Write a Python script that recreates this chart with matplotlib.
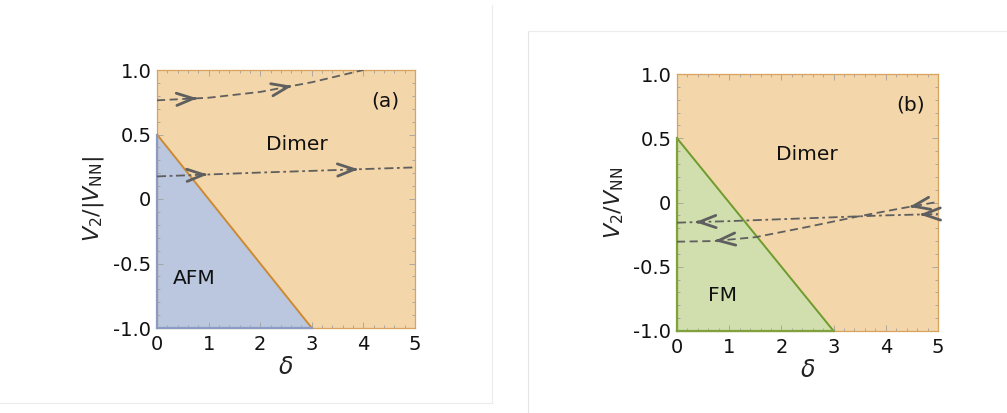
import numpy as np
import matplotlib
matplotlib.use("Agg")
import matplotlib.pyplot as plt
from matplotlib.patches import Polygon
from matplotlib.lines import Line2D
from matplotlib.ticker import MultipleLocator

plt.rcParams['font.family'] = ['DejaVu Sans']
plt.rcParams['mathtext.fontset'] = 'dejavusans'

# phase boundary (same line in both panels)
boundary_delta = [0.0, 3.0]
boundary_v = [0.5, -1.0]

# panel (a): RG flow lines
flow_a_dashed_delta = [0.0, 1.0, 2.0, 3.0, 4.0]
flow_a_dashed_v = [0.765, 0.785, 0.83, 0.905, 1.0]
flow_a_dashdot_delta = [0.0, 1.0, 2.0, 3.0, 4.0, 5.0]
flow_a_dashdot_v = [0.175, 0.19, 0.205, 0.218, 0.232, 0.245]
arrows_a_dashed = [0.78, 2.62]
arrows_a_dashdot = [0.98, 3.9]

# panel (b): RG flow lines
flow_b_dashed_delta = [0.0, 0.7, 1.5, 2.5, 3.45, 4.3, 5.0]
flow_b_dashed_v = [-0.305, -0.30, -0.27, -0.19, -0.11, -0.045, 0.005]
flow_b_dashdot_delta = [0.0, 1.0, 2.0, 3.0, 4.0, 5.0]
flow_b_dashdot_v = [-0.157, -0.145, -0.13, -0.115, -0.10, -0.09]
arrows_b_dashed = [0.72, 4.45]
arrows_b_dashdot = [0.35, 4.65]

x_ticks = [0, 1, 2, 3, 4, 5]
y_ticks = [-1.0, -0.5, 0.0, 0.5, 1.0]
y_ticklabels = ['-1.0', '-0.5', '0', '0.5', '1.0']

ORANGE_FILL = '#F3D6A9'
ORANGE_EDGE = '#D9A25E'
ORANGE_LINE = '#CC8A33'
BLUE_FILL = '#BAC7DE'
BLUE_EDGE = '#8A9CC4'
GREEN_FILL = '#D1DFAE'
GREEN_EDGE = '#7FA23E'
GREEN_LINE = '#6E9B2C'
FLOW = '#5F5F5F'

fig = plt.figure(figsize=(10.07, 4.13), dpi=100)
fig.patch.set_facecolor('white')

# faint frames around the two sub-figures
fig.add_artist(Line2D([491.5 / 1007, 491.5 / 1007], [1 - 5 / 413, 1 - 403 / 413],
                      transform=fig.transFigure, color='#ececec', lw=0.8))
fig.add_artist(Line2D([0, 491.5 / 1007], [1 - 403 / 413, 1 - 403 / 413],
                      transform=fig.transFigure, color='#ececec', lw=0.8))
fig.add_artist(Line2D([527.5 / 1007, 527.5 / 1007], [1 - 31 / 413, 0],
                      transform=fig.transFigure, color='#e4e4e4', lw=0.8))
fig.add_artist(Line2D([527.5 / 1007, 1], [1 - 31 / 413, 1 - 31 / 413],
                      transform=fig.transFigure, color='#ececec', lw=0.8))

ax_a = fig.add_axes([157 / 1007, 1 - 328 / 413, 258 / 1007, 258 / 413])
ax_b = fig.add_axes([677 / 1007, 1 - 331 / 413, 261 / 1007, 257 / 413])


def draw_arrows(ax, xs, ys, positions, direction):
    for p in positions:
        tip = (p, np.interp(p, xs, ys))
        back = p - 0.06 * direction
        tail = (back, np.interp(back, xs, ys))
        ax.annotate('', xy=tip, xytext=tail,
                    arrowprops=dict(arrowstyle='->, head_length=0.6, head_width=0.22',
                                    mutation_scale=20, lw=2.0, color=FLOW,
                                    shrinkA=0, shrinkB=0), zorder=6)


def setup(ax, ylabel, low_fill, low_edge, line_color, low_name, low_pos,
          dimer_pos, tag, tag_pos, ylabelpad):
    ax.set_xlim(0, 5)
    ax.set_ylim(-1, 1)
    for s in ax.spines.values():
        s.set_color(ORANGE_EDGE)
        s.set_linewidth(0.9)
    x0, x1 = boundary_delta
    y0, y1 = boundary_v
    dimer = Polygon([(x0, y0), (0, 1), (5, 1), (5, -1), (x1, y1)], closed=True,
                    facecolor=ORANGE_FILL, edgecolor='none', zorder=1)
    low = Polygon([(0, -1), (x0, y0), (x1, y1)], closed=True,
                  facecolor=low_fill, edgecolor='none', zorder=1)
    ax.add_patch(dimer)
    ax.add_patch(low)
    # frame segments bordering the lower phase
    ax.plot([0, 0], [-1, y0], color=low_edge, lw=1.6, clip_on=False, zorder=4)
    ax.plot([0, x1], [-1, -1], color=low_edge, lw=1.6, clip_on=False, zorder=4)
    ax.plot(boundary_delta, boundary_v, color=line_color, lw=1.4, zorder=3)

    ax.set_xticks(x_ticks)
    ax.set_yticks(y_ticks)
    ax.set_yticklabels(y_ticklabels)
    ax.xaxis.set_minor_locator(MultipleLocator(0.2))
    ax.yaxis.set_minor_locator(MultipleLocator(0.1))
    ax.tick_params(which='both', direction='in', top=True, right=True,
                   color='#a0a0a0', width=0.6, labelsize=14, labelcolor='#111111')
    ax.tick_params(which='major', length=4, pad=5)
    ax.tick_params(axis='y', which='major', pad=4)
    ax.tick_params(which='minor', length=2)
    ax.set_xlabel(r'$\delta$', fontsize=17, labelpad=1, color='#222222')
    ax.set_ylabel(ylabel, fontsize=16, labelpad=ylabelpad, color='#222222')

    ax.text(dimer_pos[0], dimer_pos[1], 'Dimer', fontsize=14.5,
            ha='center', va='center', color='#111111', zorder=7)
    ax.text(low_pos[0], low_pos[1], low_name, fontsize=14.5, ha='center',
            va='center', color='#111111', zorder=7)
    ax.text(tag_pos[0], tag_pos[1], tag, fontsize=14.5, ha='center', va='center',
            color='#111111', zorder=7)


setup(ax_a, r'$V_2/|V_{\mathrm{NN}}|$', BLUE_FILL, BLUE_EDGE, ORANGE_LINE,
      'AFM', (0.72, -0.62), (2.71, 0.42), '(a)', (4.42, 0.76), 5)
setup(ax_b, r'$V_2/V_{\mathrm{NN}}$', GREEN_FILL, GREEN_EDGE, GREEN_LINE,
      'FM', (0.88, -0.72), (2.48, 0.37), '(b)', (4.48, 0.76), 5)

dashed = dict(color=FLOW, lw=1.3, dashes=(4.5, 2.5), zorder=5)
dashdot = dict(color=FLOW, lw=1.3, dashes=(5, 2, 1.5, 2), zorder=5)

ax_a.plot(flow_a_dashed_delta, flow_a_dashed_v, **dashed)
ax_a.plot(flow_a_dashdot_delta, flow_a_dashdot_v, **dashdot)
draw_arrows(ax_a, flow_a_dashed_delta, flow_a_dashed_v, arrows_a_dashed, 1)
draw_arrows(ax_a, flow_a_dashdot_delta, flow_a_dashdot_v, arrows_a_dashdot, 1)

ax_b.plot(flow_b_dashed_delta, flow_b_dashed_v, **dashed)
ax_b.plot(flow_b_dashdot_delta, flow_b_dashdot_v, **dashdot)
draw_arrows(ax_b, flow_b_dashed_delta, flow_b_dashed_v, arrows_b_dashed, -1)
draw_arrows(ax_b, flow_b_dashdot_delta, flow_b_dashdot_v, arrows_b_dashdot, -1)

fig.savefig('out.png', dpi=100, facecolor='white')
